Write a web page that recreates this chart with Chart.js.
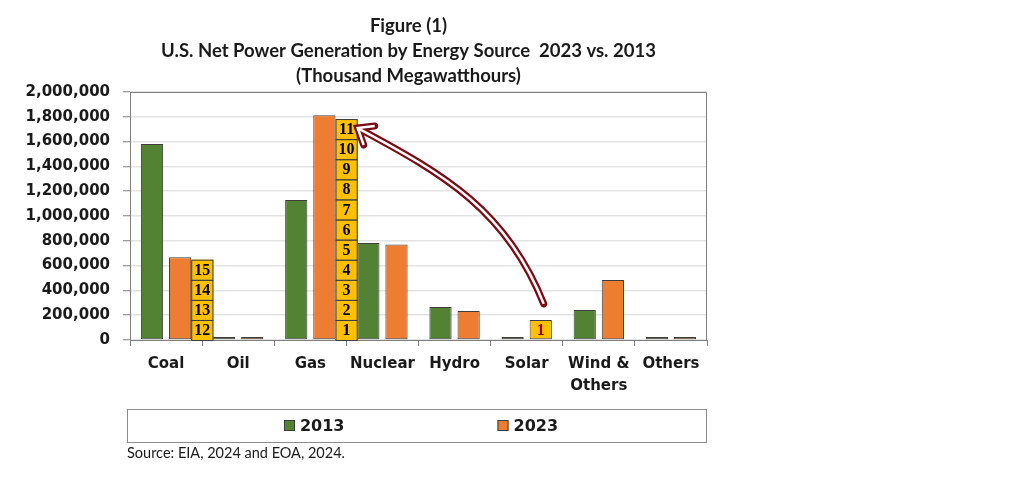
<!DOCTYPE html>
<html lang="en">

<head>
    <meta charset="UTF-8">
    <title>U.S. Net Power Generation by Energy Source 2023 vs. 2013</title>
    <script src="https://cdn.jsdelivr.net/npm/chart.js"></script>
    <style>
        body {
            margin: 0;
            background-color: #ffffff;
        }

        .chart-box {
            position: relative;
            width: 1024px;
            height: 480px;
        }
    </style>
</head>

<body>
    <div class="chart-box">
        <canvas id="powerChart"></canvas>
    </div>

    <script>
        // values (thousand MWh)
        const categories = ["Coal", "Oil", "Gas", "Nuclear", "Hydro", "Solar", ["Wind &", "Others"], "Others"];
        const seriesLabels = ["2013", "2023"];
        const gen2013 = [1580000, 22000, 1129000, 782000, 266000, 10000, 242000, 12000];
        const gen2023 = [667000, 16000, 1813000, 771000, 234000, 162000, 484000, 12000];
        const titleLines = ["Figure (1)", "U.S. Net Power Generation by Energy Source  2023 vs. 2013", "(Thousand Megawatthours)"];
        const sourceNote = "Source: EIA, 2024 and EOA, 2024.";

        // stacks of "solar-sized" units shown next to the 2023 bars of coal and gas
        const solarUnit = 162000;
        const unitStackAfter = ["Coal", "Gas"];
        const unitStackCount = [4, 11];
        const unitStackFirst = [12, 1];

        const GREEN = "#548235";
        const ORANGE = "#ED7D31";
        const YELLOW = "#FFC000";
        const EDGE = "#3d3d3d";
        const AXIS = "#7f7f7f";
        const ARROW = "#7a0c16";
        const TEXT = "#1a1a1a";

        const isSolar = (i) => categories[i] === "Solar";

        // title, plot frame, legend box and source line
        const framePlugin = {
            id: "frame",
            afterDraw(chart) {
                const ctx = chart.ctx;
                const a = chart.chartArea;
                ctx.save();

                ctx.strokeStyle = AXIS;
                ctx.lineWidth = 1;
                ctx.beginPath();
                ctx.moveTo(a.left, a.top + 0.5);
                ctx.lineTo(a.right - 0.5, a.top + 0.5);
                ctx.lineTo(a.right - 0.5, a.bottom);
                ctx.stroke();

                ctx.fillStyle = TEXT;
                ctx.textAlign = "center";
                ctx.textBaseline = "middle";
                ctx.font = "bold 18.5px Lato";
                const cx = (a.left + a.right) / 2 - 10;
                titleLines.forEach((line, i) => ctx.fillText(line, cx, 26 + i * 25));

                // legend
                const lx = a.left - 3, ly = a.bottom + 69, lw = a.right - lx, lh = 33;
                ctx.strokeStyle = "#8c8c8c";
                ctx.strokeRect(lx + 0.5, ly + 0.5, lw - 1, lh);
                ctx.font = "bold 16px 'DejaVu Sans'";
                ctx.textAlign = "left";
                const colors = [GREEN, ORANGE];
                const widths = seriesLabels.map(t => 16 + ctx.measureText(t).width);
                const gap = 153;
                let x = lx + lw / 2 - (widths[0] + gap + widths[1]) / 2 + 4;
                const cy = ly + lh / 2;
                seriesLabels.forEach((t, i) => {
                    ctx.fillStyle = colors[i];
                    ctx.fillRect(x, cy - 5.5, 11, 11);
                    ctx.strokeStyle = EDGE;
                    ctx.strokeRect(x + 0.5, cy - 5, 10, 10);
                    ctx.fillStyle = TEXT;
                    ctx.fillText(t, x + 16, cy + 1);
                    x += widths[i] + gap;
                });

                ctx.font = "14.5px Lato";
                ctx.fillStyle = TEXT;
                ctx.fillText(sourceNote, lx, ly + lh + 11);
                ctx.restore();
            }
        };

        // unit stacks, their numbers and the curved arrow from solar to gas
        const unitPlugin = {
            id: "units",
            afterDatasetsDraw(chart) {
                const ctx = chart.ctx;
                const yScale = chart.scales.y;
                const bars2023 = chart.getDatasetMeta(1).data;
                ctx.save();
                ctx.textAlign = "center";
                ctx.textBaseline = "middle";
                ctx.font = "bold 16px 'Liberation Serif'";

                let gasStack = null;
                unitStackAfter.forEach((name, s) => {
                    const bar = bars2023[categories.indexOf(name)];
                    const left = bar.x + bar.width / 2;
                    const w = bar.width;
                    for (let k = 0; k < unitStackCount[s]; k++) {
                        const yb = yScale.getPixelForValue(k * solarUnit);
                        const yt = yScale.getPixelForValue((k + 1) * solarUnit);
                        ctx.fillStyle = YELLOW;
                        ctx.fillRect(left, yt, w, yb - yt);
                        ctx.strokeStyle = EDGE;
                        ctx.lineWidth = 1;
                        ctx.strokeRect(left + 0.5, yt + 0.5, w - 1, yb - yt);
                        ctx.fillStyle = "#000000";
                        ctx.fillText(String(unitStackFirst[s] + k), left + w / 2, (yt + yb) / 2 + 1);
                    }
                    if (name === "Gas") {
                        gasStack = { right: left + w, top: yScale.getPixelForValue(unitStackCount[s] * solarUnit) };
                    }
                });

                const solarBar = bars2023[categories.indexOf("Solar")];
                ctx.fillStyle = "#9c0006";
                ctx.fillText("1", solarBar.x, (solarBar.y + solarBar.base) / 2 + 1);

                // arrow: tail above the solar bar, head at top of the gas stack
                const tail = { x: solarBar.x + 3, y: solarBar.y - 16 };
                const tip = { x: gasStack.right, y: gasStack.top + 9 };
                const c1 = { x: tail.x - 37, y: tail.y - 93 };
                const c2 = { x: tip.x + 88, y: tip.y + 47 };
                const arm1 = { x: tip.x + 17, y: tip.y - 2 };
                const arm2 = { x: tip.x + 6, y: tip.y + 17 };

                const tracePath = () => {
                    ctx.beginPath();
                    ctx.moveTo(tail.x, tail.y);
                    ctx.bezierCurveTo(c1.x, c1.y, c2.x, c2.y, tip.x, tip.y);
                    ctx.moveTo(arm1.x, arm1.y);
                    ctx.lineTo(tip.x, tip.y);
                    ctx.lineTo(arm2.x, arm2.y);
                };
                ctx.lineJoin = "miter";
                ctx.lineCap = "round";
                ctx.strokeStyle = ARROW;
                ctx.lineWidth = 7;
                tracePath();
                ctx.stroke();
                ctx.lineCap = "butt";
                ctx.strokeStyle = "#ffffff";
                ctx.lineWidth = 2.5;
                tracePath();
                ctx.stroke();
                ctx.restore();
            }
        };

        const ctx = document.getElementById("powerChart").getContext("2d");

        new Chart(ctx, {
            type: "bar",
            data: {
                labels: categories,
                datasets: [{
                    label: seriesLabels[0],
                    data: gen2013,
                    backgroundColor: GREEN,
                    borderColor: EDGE,
                    borderWidth: 1,
                    borderSkipped: false,
                    minBarLength: 3,
                    categoryPercentage: 0.78,
                    barPercentage: 0.79
                }, {
                    label: seriesLabels[1],
                    data: gen2023,
                    backgroundColor: (c) => isSolar(c.dataIndex) ? YELLOW : ORANGE,
                    borderColor: EDGE,
                    borderWidth: 1,
                    borderSkipped: false,
                    minBarLength: 3,
                    categoryPercentage: 0.78,
                    barPercentage: 0.79
                }]
            },
            options: {
                responsive: true,
                maintainAspectRatio: false,
                animation: false,
                layout: {
                    padding: { left: 0, right: 317, top: 92, bottom: 0 }
                },
                plugins: {
                    legend: { display: false },
                    title: { display: false },
                    tooltip: { enabled: false }
                },
                scales: {
                    x: {
                        offset: true,
                        afterFit(scale) { scale.height = 140; },
                        grid: { drawOnChartArea: false, tickLength: 6, color: AXIS },
                        border: { display: true, color: AXIS },
                        ticks: {
                            color: TEXT,
                            font: { family: "DejaVu Sans", size: 15, weight: "bold", lineHeight: 1.47 },
                            padding: 7,
                            maxRotation: 0,
                            autoSkip: false
                        }
                    },
                    y: {
                        min: 0,
                        max: 2000000,
                        afterFit(scale) { scale.width = 130; },
                        grid: { color: "#e3e3e3", lineWidth: 1.5, tickLength: 7, tickColor: AXIS, tickWidth: 1 },
                        border: { display: true, color: AXIS },
                        ticks: {
                            stepSize: 200000,
                            padding: 13,
                            color: TEXT,
                            font: { family: "DejaVu Sans", size: 15, weight: "bold" },
                            callback: (v) => v.toLocaleString("en-US")
                        }
                    }
                }
            },
            plugins: [framePlugin, unitPlugin]
        });
    </script>
</body>

</html>
